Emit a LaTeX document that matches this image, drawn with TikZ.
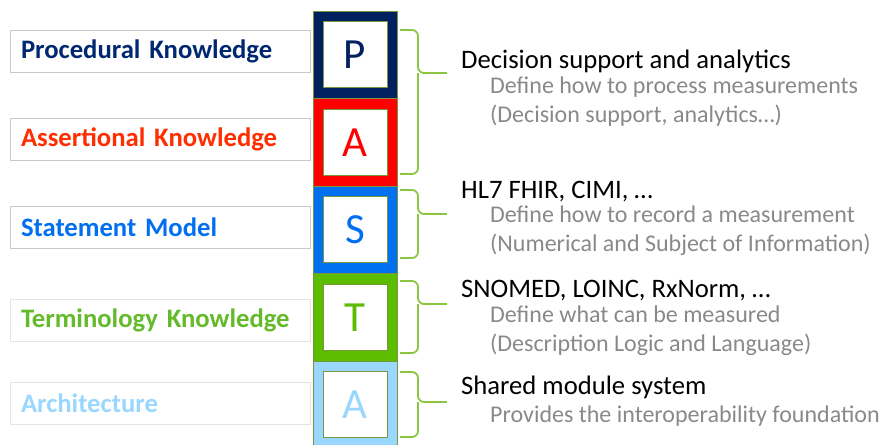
\documentclass[tikz,border=0pt]{standalone}
\usepackage{fontspec}
\setmainfont{Carlito}
\usetikzlibrary{positioning}

\definecolor{pastP}{RGB}{0,32,96}
\definecolor{pastA}{RGB}{255,0,0}
\definecolor{pastS}{RGB}{0,112,240}
\definecolor{pastT}{RGB}{92,188,0}
\definecolor{pastArch}{RGB}{153,215,255}
\definecolor{lblP}{RGB}{0,40,112}
\definecolor{lblA}{RGB}{255,45,0}
\definecolor{lblT}{RGB}{100,186,42}
\definecolor{olive}{RGB}{120,150,60}
\definecolor{brgreen}{RGB}{140,198,62}
\definecolor{boxgray}{RGB}{200,200,200}
\definecolor{notegray}{RGB}{137,137,137}

\begin{document}
\begin{tikzpicture}[x=1pt,y=-1pt]
\useasboundingbox (0,0) rectangle (882,444);
\clip (0,0) rectangle (882,444);
\tikzset{Layer/.style =
	{shape = rectangle,
		minimum width = 84pt,
		minimum height = 87.5pt,
		outer sep = 0pt,
		draw = olive,
		line width = 0.6pt},
	Letter/.style =
	{shape = rectangle,
		minimum width = 64pt,
		minimum height = 66pt,
		fill = white,
		draw = olive,
		line width = 0.6pt,
		font = \fontsize{43}{50}\selectfont},
	Label/.style =
	{shape = rectangle,
		draw = boxgray,
		line width = 0.8pt,
		minimum height = 42pt,
		text width = 278pt,
		inner xsep = 11pt,
		inner ysep = 0pt,
		align = left,
		font = \bfseries\fontsize{26.67}{32}\selectfont},
	Head/.style = {anchor = base west, inner sep = 0pt,
		font = \fontsize{26.67}{32}\selectfont},
	Note/.style = {anchor = base west, inner sep = 0pt, align = left,
		text = notegray, font = \fontsize{24}{28.8}\selectfont},
	Brace/.style = {draw = brgreen, line width = 1.8pt, rounded corners = 6pt}}

% the PAST column
\node[Layer, fill=pastP] (layP) at (355,54.75) {};
\node[Layer, fill=pastA, below=0pt of layP] (layA) {};
\node[Layer, fill=pastS, below=0pt of layA] (layS) {};
\node[Layer, fill=pastT, below=0pt of layS] (layT) {};
\node[Layer, fill=pastArch, below=0pt of layT] (layArch) {};

\node[Letter, text=pastP] (P) at (layP) {P};
\node[Letter, text=pastA] (A) at (layA) {A};
\node[Letter, text=pastS] (S) at (layS) {S};
\node[Letter, text=pastT] (T) at (layT) {T};
\node[Letter, text=pastArch] (Arch) at (layArch) {A};

% labels on the left
\node[Label, text=lblP] (procedural) at (160,51) {Procedural Knowledge};
\node[Label, text=lblA] (assertional) at (160,139) {Assertional Knowledge};
\node[Label, text=pastS] (statement) at (160,227.5) {Statement Model};
\node[Label, text=lblT, draw=boxgray!50] (terminology) at (160,320.5) {Terminology Knowledge};
\node[Label, text=pastArch, draw=boxgray!50] (architecture) at (160,403) {Architecture};

% braces
\coordinate (tipP) at (447,73);
\coordinate (tipS) at (447,214);
\coordinate (tipT) at (447,304);
\coordinate (tipArch) at (447,402);
\draw[Brace] (400,30) -| (418,73) -- (tipP);
\draw[Brace] (400,174) -| (418,73);
\draw[Brace] (400,190) -| (418,214) -- (tipS);
\draw[Brace] (400,258) -| (418,214);
\draw[Brace] (400,281) -| (418,304) -- (tipT);
\draw[Brace] (400,353) -| (418,304);
\draw[Brace] (400,372) -| (418,402) -- (tipArch);
\draw[Brace] (400,437) -| (418,402);

% descriptions (base = last line)
\node[Head] (hP) at (461,68) {Decision support and analytics};
\node[Note] (dP) at (490,122) {Define how to process measurements\\(Decision support, analytics…)};
\node[Head] (hS) at (461,198) {HL7 FHIR, CIMI, …};
\node[Note] (dS) at (490,251) {Define how to record a measurement\\(Numerical and Subject of Information)};
\node[Head] (hT) at (461,297) {SNOMED, LOINC, RxNorm, …};
\node[Note] (dT) at (490,351) {Define what can be measured\\(Description Logic and Language)};
\node[Head] (hArch) at (461,394) {Shared module system};
\node[Note] (dArch) at (490,422) {Provides the interoperability foundation};
\end{tikzpicture}
\end{document}
